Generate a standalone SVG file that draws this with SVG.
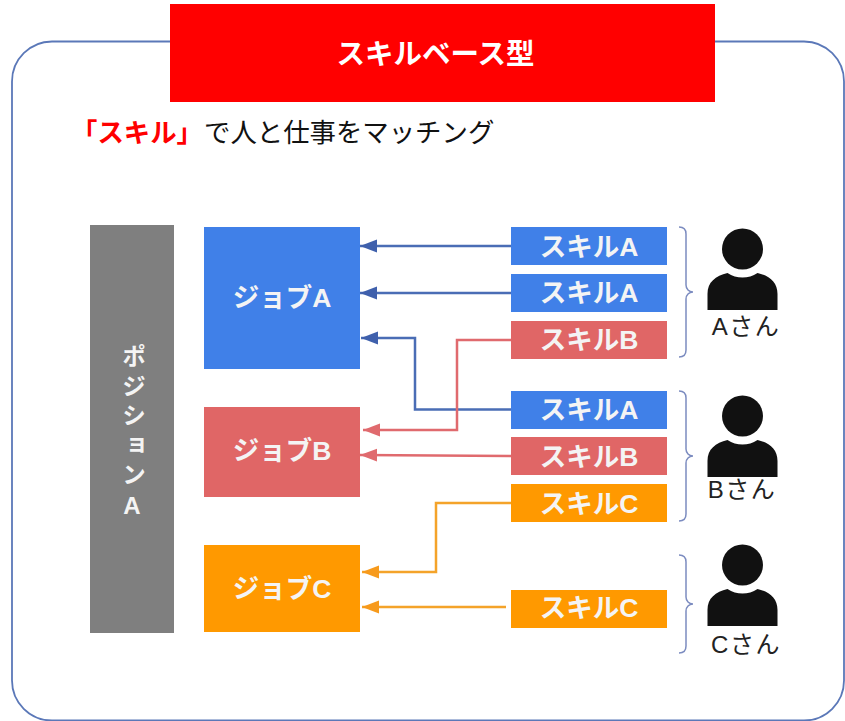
<svg xmlns="http://www.w3.org/2000/svg" width="845" height="721" viewBox="0 0 845 721">
<defs>
<style>
text{font-family:"Liberation Sans","Noto Sans CJK JP",sans-serif}
.lbl{fill:#f4f4f4;font-weight:700;font-size:26.500px;text-anchor:middle}
.who{fill:#222;font-size:24px;letter-spacing:1.500px;text-anchor:middle}
.blue{fill:#4080e8}.red{fill:#e06666}.org{fill:#ff9900}
.c{fill:none;stroke-width:2.500}
.cb{stroke:#4a6db5;marker-end:url(#ab)}.cr{stroke:#e06a6e;marker-end:url(#ar)}.co{stroke:#f4a32a;marker-end:url(#ao)}
.br{fill:none;stroke:#7c8cc0;stroke-width:1.500}
</style>
<marker id="ab" markerUnits="userSpaceOnUse" markerWidth="18" markerHeight="14" refX="17" refY="6.500" orient="auto"><path d="M17 6.500L0 0V13Z" fill="#3f60ac"/></marker>
<marker id="ar" markerUnits="userSpaceOnUse" markerWidth="18" markerHeight="14" refX="17" refY="6.500" orient="auto"><path d="M17 6.500L0 0V13Z" fill="#e06a6e"/></marker>
<marker id="ao" markerUnits="userSpaceOnUse" markerWidth="18" markerHeight="14" refX="17" refY="6.500" orient="auto"><path d="M17 6.500L0 0V13Z" fill="#f79a1c"/></marker>
<g id="person"><circle cx="0" cy="0" r="20.500" fill="#111"/><path d="M-35 61V45C-35 33-27 27-15 24C-6 30 6 30 15 24C27 27 35 33 35 45V61Z" fill="#111"/></g>
</defs>
<rect width="845" height="721" fill="#fff"/>
<rect id="frame" x="12" y="41.500" width="832" height="679" rx="40" fill="#fff" stroke="#5b78b8" stroke-width="1.800"/>
<g id="title"><rect x="170" y="4" width="545" height="98" fill="#f00"/><text x="435.500" y="64" font-size="28.500" font-weight="700" fill="#fff" text-anchor="middle">スキルベース型</text></g>
<text id="subtitle" x="71" y="142" font-size="26.400" fill="#111"><tspan fill="#f00" font-weight="700">「スキル」</tspan><tspan x="204">で人と仕事をマッチング</tspan></text>
<g id="connectors">
<path class="c cb" d="M511 246H360"/>
<path class="c cb" d="M511 293H360"/>
<path class="c cb" d="M511 409.500H415V338H361"/>
<path class="c cr" d="M511 340H457V430H363"/>
<path class="c cr" d="M511 456L360 455"/>
<path class="c co" d="M511 503H436V572H362"/>
<path class="c co" d="M506 607H362"/>
</g>
<g id="position-a"><rect x="90" y="225" width="84" height="408" fill="#7f7f7f"/>
<text x="132" y="344" style="writing-mode:vertical-rl;text-orientation:upright;letter-spacing:5.500px;font-size:24px;font-weight:700;fill:#f4f4f4">ポジションA</text></g>
<g id="job-a"><rect class="blue" x="204" y="227" width="156" height="142"/><text class="lbl" x="282" y="307">ジョブA</text></g>
<g id="job-b"><rect class="red" x="204" y="407" width="156" height="90"/><text class="lbl" x="282" y="460">ジョブB</text></g>
<g id="job-c"><rect class="org" x="204" y="545" width="156" height="87"/><text class="lbl" x="282" y="598">ジョブC</text></g>
<g id="skill-1"><rect class="blue" x="511" y="227" width="156" height="38"/><text class="lbl" x="589" y="256">スキルA</text></g>
<g id="skill-2"><rect class="blue" x="511" y="274" width="156" height="38"/><text class="lbl" x="589" y="302">スキルA</text></g>
<g id="skill-3"><rect class="red" x="511" y="321" width="156" height="38"/><text class="lbl" x="589" y="349">スキルB</text></g>
<g id="skill-4"><rect class="blue" x="511" y="391" width="156" height="38"/><text class="lbl" x="589" y="419">スキルA</text></g>
<g id="skill-5"><rect class="red" x="511" y="437" width="156" height="38"/><text class="lbl" x="589" y="466">スキルB</text></g>
<g id="skill-6"><rect class="org" x="511" y="484" width="156" height="38"/><text class="lbl" x="589" y="513">スキルC</text></g>
<g id="skill-7"><rect class="org" x="511" y="590" width="156" height="38"/><text class="lbl" x="589" y="617">スキルC</text></g>
<g id="brace-a"><path class="br" d="M679 227C684 227 686 229 686 234V285C686 289 689 292 693 292C689 292 686 295 686 299V350C686 355 684 357 679 357"/></g>
<g id="brace-b"><path class="br" d="M679 391C684 391 686 393 686 398V449C686 453 689 456 693 456C689 456 686 459 686 463V514C686 519 684 521 679 521"/></g>
<g id="brace-c"><path class="br" d="M679 555C684 555 686 557 686 562V597C686 601 689 604 693 604C689 604 686 607 686 611V646C686 651 684 653 679 653"/></g>
<g id="person-a"><use href="#person" x="742.500" y="249"/><text class="who" x="746" y="335">Aさん</text></g>
<g id="person-b"><use href="#person" x="742.500" y="416"/><text class="who" x="742" y="498">Bさん</text></g>
<g id="person-c"><use href="#person" x="742.500" y="565"/><text class="who" x="746" y="653">Cさん</text></g>
</svg>
